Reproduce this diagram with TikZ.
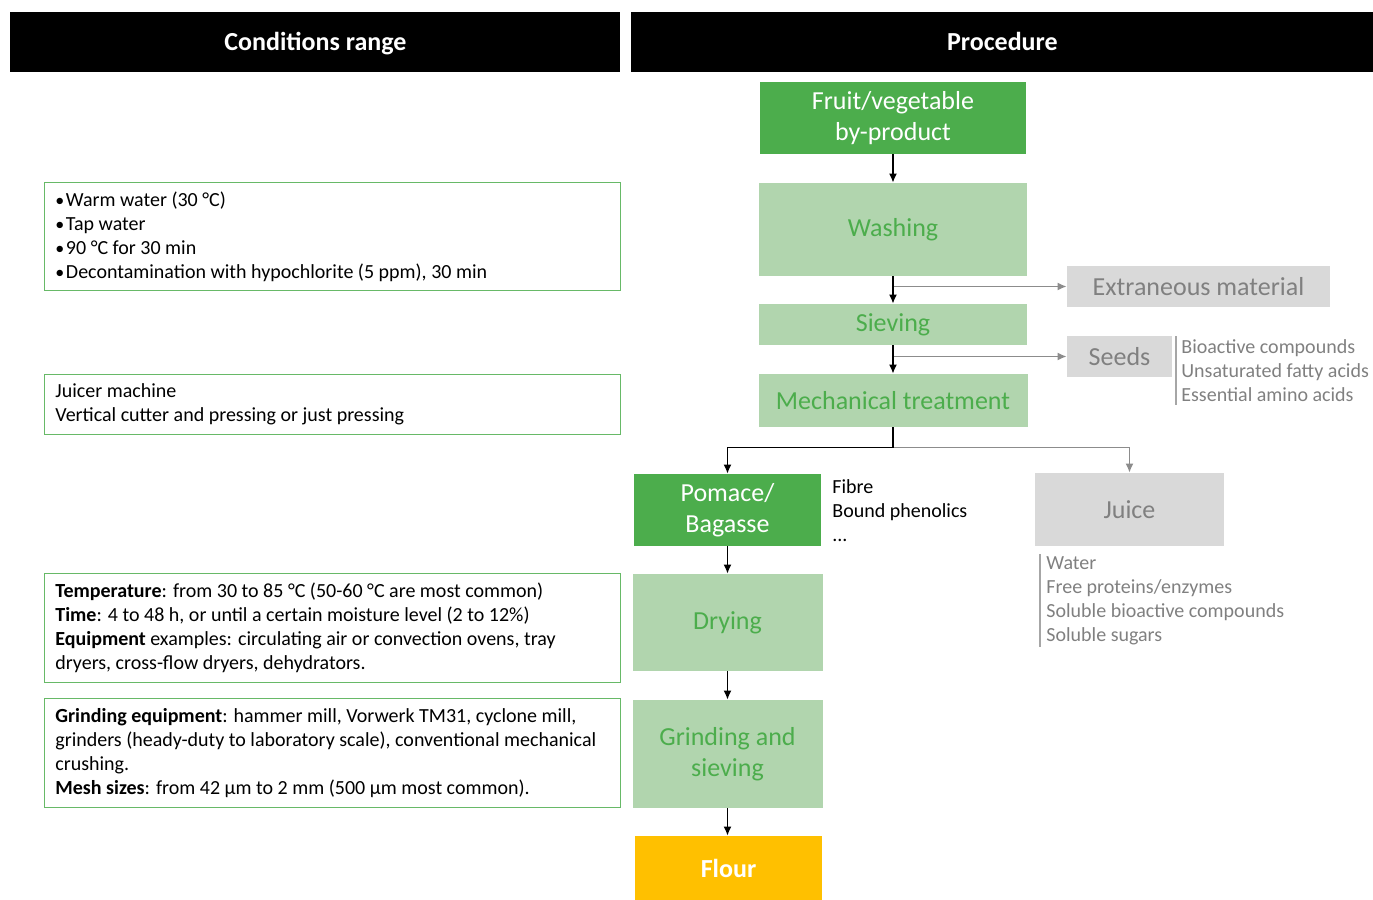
\documentclass[tikz,border=0pt]{standalone}
\usepackage{fontspec}
\setmainfont{Carlito}
\usetikzlibrary{positioning, arrows.meta, calc}

\definecolor{dkgreen}{RGB}{76,173,76}
\definecolor{ltgreen}{RGB}{177,213,174}
\definecolor{boxgray}{RGB}{217,217,217}
\definecolor{txtgray}{RGB}{128,128,128}
\definecolor{linegray}{RGB}{140,140,140}
\definecolor{bargray}{RGB}{166,166,166}
\definecolor{flouryel}{RGB}{255,192,0}

\newcommand\boxfont{\fontsize{13}{15.5}\selectfont}
\newcommand\listfont{\fontsize{10}{12}\selectfont}

\begin{document}
\begin{tikzpicture}[
  x=0.5pt, y=-0.5pt,
  head/.style={fill=black, text=white, font=\boxfont\bfseries, inner sep=0pt,
               anchor=north west, minimum height=30pt, text height=8.2pt, text depth=0pt},
  cond/.style={draw=dkgreen!85, line width=0.6pt, anchor=north west,
               minimum width=288pt, inner sep=0pt},
  condtxt/.style={font=\listfont, align=left, anchor=west, inner sep=0pt},
  main/.style={fill=dkgreen, text=white, font=\boxfont, align=center, inner sep=0pt},
  stage/.style={fill=ltgreen, text=dkgreen, font=\boxfont, align=center, inner sep=0pt},
  waste/.style={fill=boxgray, text=txtgray, font=\boxfont, inner sep=0pt},
  lst/.style={font=\listfont, align=left, anchor=north west, inner sep=0pt},
  flow/.style={-{Latex[length=4.5pt,width=4pt]}, line width=0.7pt},
  branch/.style={flow, draw=linegray},
]
  \useasboundingbox (0,0) rectangle (1373,900);

  % Column headers
  \node[head, minimum width=305pt] (hcond) at (10,12) {Conditions range};
  \node[head, minimum width=371pt] (hproc) at (631,12) {Procedure};

  % Procedure (main line at x=893, then x=727.5)
  \node[main, minimum width=133pt, minimum height=36pt] (fruit) at (893,118) {Fruit/vegetable\\by-product};
  \node[stage, minimum width=134pt, minimum height=46.5pt] (wash) at (893,229.5) {Washing};
  \node[stage, minimum width=134pt, minimum height=20.5pt] (sieve) at (893,324.5) {Sieving};
  \node[stage, minimum width=134.5pt, minimum height=26.5pt] (mech) at (893,400.5) {Mechanical treatment};
  \node[waste, minimum width=131.5pt, minimum height=20.5pt] (extra) at (1198.5,286.5) {Extraneous material};
  \node[waste, minimum width=52.5pt, minimum height=20.5pt] (seeds) at (1119.5,356.5) {Seeds};
  \node[main, minimum width=93.5pt, minimum height=36pt] (pomace) at (727.5,510) {Pomace/\\Bagasse};
  \node[waste, minimum width=94.5pt, minimum height=36.5pt] (juice) at (1129.5,509.5) {Juice};
  \node[stage, minimum width=95pt, minimum height=48.5pt] (dry) at (727.5,622.5) {Drying};
  \node[stage, minimum width=95pt, minimum height=54pt] (grind) at (727.5,754) {Grinding and\\sieving};
  \node[main, fill=flouryel, font=\boxfont\bfseries, minimum width=93.5pt, minimum height=32pt] (flour) at (728.5,868) {Flour};

  % Side products
  \node[lst] (fibre) at (832,479) {Fibre\\Bound phenolics\\...};
  \node[lst, text=txtgray, inner xsep=2.5pt, inner ysep=1.5pt] (seedlst) at (1176,336) {Bioactive compounds\\Unsaturated fatty acids\\Essential amino acids};
  \draw[bargray, line width=0.6pt] (seedlst.north west) -- (seedlst.south west);
  \node[lst, text=txtgray, inner xsep=3pt, inner ysep=1pt] (juicelst) at (1040,554) {Water\\Free proteins/enzymes\\Soluble bioactive compounds\\Soluble sugars};
  \draw[bargray, line width=0.6pt] (juicelst.north west) -- (juicelst.south west);

  % Connectors
  \draw[branch] (wash.south |- extra.west) -- (extra.west);
  \draw[branch] (sieve.south |- seeds.west) -- (seeds.west);
  \coordinate (split) at ($(mech.south)+(0,20)$);
  \draw[branch] (split) -| (juice.north);
  \draw[flow] (fruit) -- (wash);
  \draw[flow] (wash) -- (sieve);
  \draw[flow] (sieve) -- (mech);
  \draw[flow] (mech.south) -- (split) -| (pomace.north);
  \draw[flow] (pomace) -- (dry);
  \draw[flow] (dry) -- (grind);
  \draw[flow] (grind) -- (flour.north -| grind.south);

  % Conditions range
  \node[cond, minimum height=54pt] (cwash) at (44,182) {};
  \node[condtxt] at ([xshift=5.5pt]cwash.west)
    {{\small\textbullet}\hspace{0.8pt}Warm water (30 °C)\\
     {\small\textbullet}\hspace{0.8pt}Tap water\\
     {\small\textbullet}\hspace{0.8pt}90 °C for 30 min\\
     {\small\textbullet}\hspace{0.8pt}Decontamination with hypochlorite (5 ppm), 30 min};
  \node[cond, minimum height=30pt] (cmech) at (44,374) {};
  \node[condtxt] at ([xshift=5.5pt]cmech.west)
    {Juicer machine\\Vertical cutter and pressing or just pressing};
  \node[cond, minimum height=54.5pt] (cdry) at (44,573) {};
  \node[condtxt] at ([xshift=5.5pt]cdry.west)
    {\textbf{Temperature}: from 30 to 85 °C (50-60 °C are most common)\\
     \textbf{Time}: 4 to 48 h, or until a certain moisture level (2 to 12\%)\\
     \textbf{Equipment} examples: circulating air or convection ovens, tray\\
     dryers, cross-flow dryers, dehydrators.};
  \node[cond, minimum height=54.5pt] (cgrind) at (44,698) {};
  \node[condtxt] at ([xshift=5.5pt]cgrind.west)
    {\textbf{Grinding equipment}: hammer mill, Vorwerk TM31, cyclone mill,\\
     grinders (heady-duty to laboratory scale), conventional mechanical\\
     crushing.\\
     \textbf{Mesh sizes}: from 42 µm to 2 mm (500 µm most common).};
\end{tikzpicture}
\end{document}
